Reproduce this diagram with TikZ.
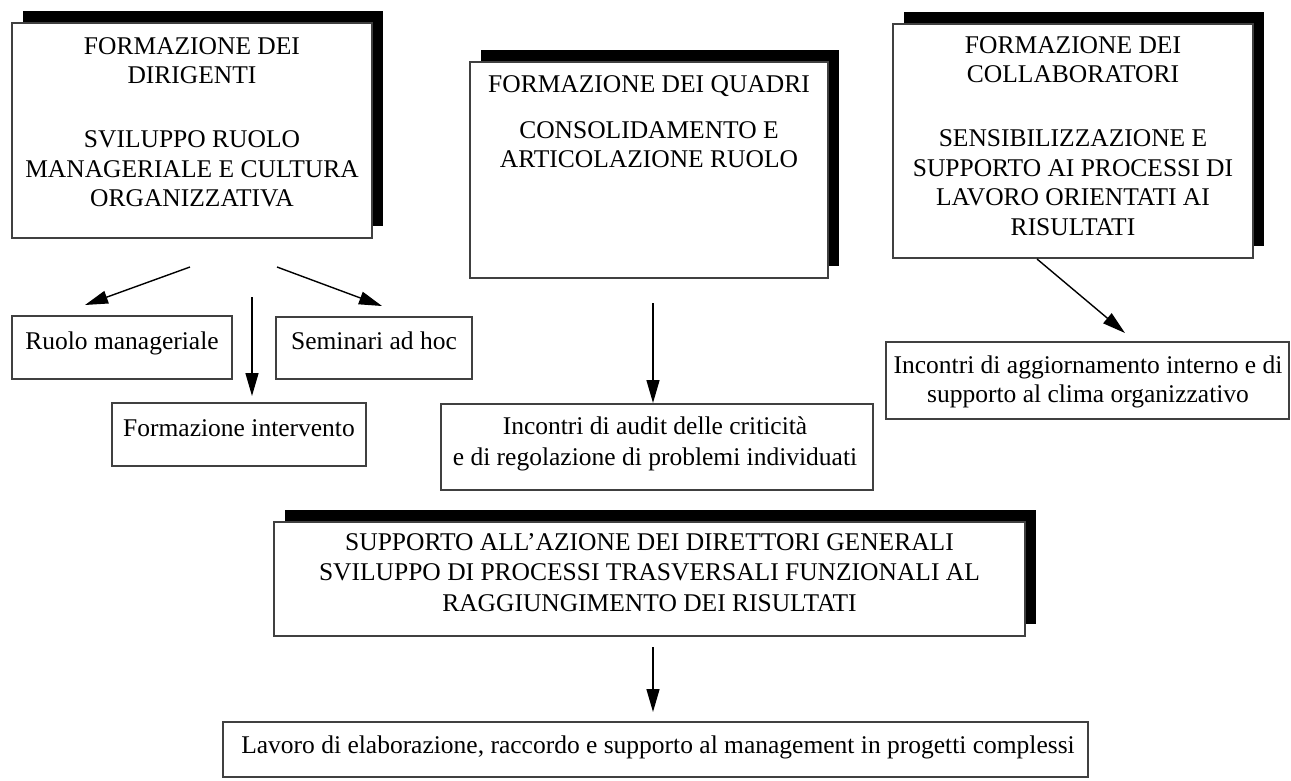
\documentclass[tikz,border=0pt]{standalone}
\usepackage{fontspec}
\setmainfont{Liberation Serif}
\usetikzlibrary{arrows.meta,shadows}
\begin{document}
\begin{tikzpicture}[x=1pt,y=-1pt,
  every node/.style={font=\fontsize{25.5}{29.5}\selectfont},
  rect/.style args={#1,#2,#3,#4}{at={({(#1+#3)/2},{(#2+#4)/2})},
     minimum width={#3-#1}, minimum height={#4-#2}},
  plainbox/.style={draw=black!75, line width=1.1pt, fill=white, inner sep=0pt, outer sep=0pt},
  shadowbox/.style={plainbox, drop shadow={shadow xshift=11pt, shadow yshift=12pt, fill=black, opacity=1}},
  txt/.style={inner sep=0pt, align=center, anchor=north},
  ltxt/.style={inner sep=0pt, anchor=base},
  arr/.style={line width=1.4pt, -{Triangle[length=23pt,width=13pt]}}
]
\useasboundingbox (0,0) rectangle (1291,780);

% main boxes with shadows
\node[shadowbox, rect={12,23,372,238}] (b1) {};
\node[shadowbox, rect={470,62,828,278}] (b2) {};
\node[shadowbox, rect={893,24,1253,258}] (b3) {};
\node[shadowbox, rect={274,522,1025,636}] (b4) {};

\node[txt] (b1t) at (192,37) {FORMAZIONE DEI\\DIRIGENTI\\[34.5pt]SVILUPPO RUOLO\\MANAGERIALE E CULTURA\\ORGANIZZATIVA};
\node[txt] (b2t) at (649,75) {FORMAZIONE DEI QUADRI\\[16.5pt]CONSOLIDAMENTO E\\ARTICOLAZIONE RUOLO};
\node[txt] (b3t) at (1073,36) {FORMAZIONE DEI\\COLLABORATORI\\[34.5pt]SENSIBILIZZAZIONE E\\SUPPORTO AI PROCESSI DI\\LAVORO ORIENTATI AI\\RISULTATI};
\node[txt] (b4t) at (649.5,533) {SUPPORTO ALL’AZIONE DEI DIRETTORI GENERALI\\[1pt]SVILUPPO DI PROCESSI TRASVERSALI FUNZIONALI AL\\[1pt]RAGGIUNGIMENTO DEI RISULTATI};

% secondary boxes
\node[plainbox, rect={12,316,232,379}] (c1) {};
\node[ltxt] (c1t) at (122,349) {Ruolo manageriale};
\node[plainbox, rect={276,317,472,379}] (c2) {};
\node[ltxt] (c2t) at (374,349) {Seminari ad hoc};
\node[plainbox, rect={112,403,366,466}] (c3) {};
\node[ltxt] (c3t) at (239,436) {Formazione intervento};
\node[plainbox, rect={441,404,873,490}] (d1) {};
\node[txt] (d1t) at (655,416.5) {Incontri di audit delle criticità\\[1.5pt]e di regolazione di problemi individuati};
\node[plainbox, rect={886,342,1289,419}] (e1) {};
\node[txt] (e1t) at (1088,355.5) {Incontri di aggiornamento interno e di\\supporto al clima organizzativo};
\node[plainbox, rect={223,722,1088,777}] (f1) {};
\node[ltxt] (f1t) at (658,753) {Lavoro di elaborazione, raccordo e supporto al management in progetti complessi};

% arrow end points
\coordinate (a1s) at (190,267);  \coordinate (a1e) at (85,305);
\coordinate (a2s) at (277,267);  \coordinate (a2e) at (382,306);
\coordinate (a3s) at (252,297);  \coordinate (a3e) at (252,396);
\coordinate (a4s) at (653,303);  \coordinate (a4e) at (653,403);
\coordinate (a5s) at (1037,259); \coordinate (a5e) at (1125,333);
\coordinate (a6s) at (653,647);  \coordinate (a6e) at (653,712);

\draw[arr] (a1s) -- (a1e);
\draw[arr] (a2s) -- (a2e);
\draw[arr] (a3s) -- (a3e);
\draw[arr] (a4s) -- (a4e);
\draw[arr] (a5s) -- (a5e);
\draw[arr] (a6s) -- (a6e);
\end{tikzpicture}
\end{document}
